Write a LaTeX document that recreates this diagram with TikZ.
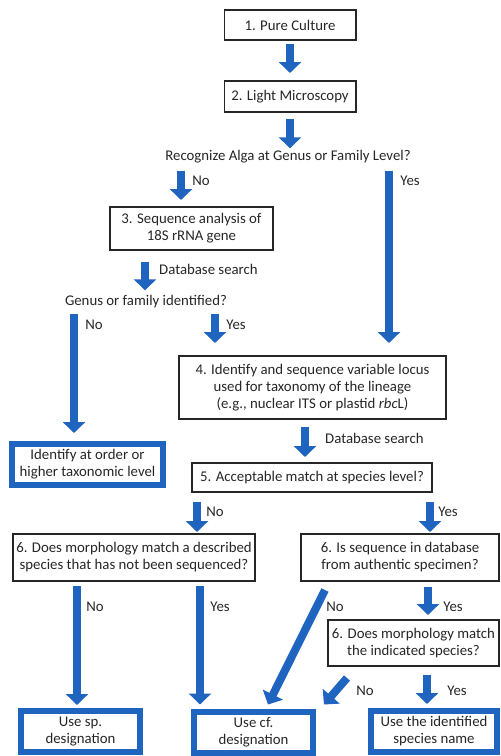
\documentclass[tikz,border=0pt]{standalone}
\usepackage{fontspec}
\setmainfont{Carlito}
\usetikzlibrary{arrows.meta,calc}
\definecolor{flowblue}{RGB}{31,100,190}
\begin{document}
\begin{tikzpicture}[x=1pt,y=-1pt,
    font=\fontsize{14.8}{17}\selectfont,text=black!85,
    box/.style={draw=black!85,line width=1.8pt,align=center,inner sep=0pt},
    endbox/.style={draw=flowblue,line width=6pt,align=center,inner sep=0pt},
    ask/.style={inner sep=0pt,text height=10pt,text depth=3pt},
    lbl/.style={inner sep=0pt},
    flow/.style={draw=flowblue,line width=8pt,-{Triangle[width=22pt,length=11pt]}}]
    \useasboundingbox (0,0) rectangle (501,756);
    \node[box,minimum width=131.2pt,minimum height=30.2pt] (b1) at (290,25) {1. Pure Culture};
    \node[box,minimum width=131.2pt,minimum height=31.2pt] (b2) at (290,96.5) {2. Light Microscopy};
    \node[ask] (q1) at (288,157) {Recognize Alga at Genus or Family Level?};
    \node[box,minimum width=163.2pt,minimum height=43.2pt] (b3) at (191.5,228.5) {3. Sequence analysis of\\18S rRNA gene};
    \node[ask] (q2) at (146,302) {Genus or family identified?};
    \node[box,minimum width=267.2pt,minimum height=63.2pt] (b4) at (312.5,387.5) {4. Identify and sequence variable locus\\used for taxonomy of the lineage\\(e.g., nuclear ITS or plastid \textit{rbc}L)};
    \node[endbox,minimum width=151pt,minimum height=41pt] (bo) at (87.5,464.5) {Identify at order or\\higher taxonomic level};
    \node[box,minimum width=240.2pt,minimum height=29.2pt] (b5) at (312,477.5) {5. Acceptable match at species level?};
    \node[box,minimum width=242.2pt,minimum height=47.2pt] (b6a) at (134,557.5) {6. Does morphology match a described\\species that has not been sequenced?};
    \node[box,minimum width=198.2pt,minimum height=47.2pt] (b6b) at (400,557.5) {6. Is sequence in database\\from authentic specimen?};
    \node[box,minimum width=171.2pt,minimum height=46.2pt] (b6c) at (413.5,643) {6. Does morphology match\\the indicated species?};
    \node[endbox,minimum width=119pt,minimum height=41pt] (bsp) at (80.5,731.5) {Use sp.\\designation};
    \node[endbox,minimum width=119pt,minimum height=41pt] (bcf) at (253.5,732) {Use cf.\\designation};
    \node[endbox,minimum width=126pt,minimum height=41pt] (bname) at (434,731.5) {Use the identified\\species name};

    \draw[flow,shorten <=3pt,shorten >=7pt] (b1) -- (b2);
    \draw[flow,shorten <=6pt,shorten >=2pt] (b2) -- (q1.north -| b2.south);
    \draw[flow,shorten <=7pt,shorten >=6pt] ([xshift=-107pt]q1.south) -- ([xshift=-10.5pt]b3.north);
    \draw[flow,shorten <=7pt,shorten >=12pt] ([xshift=101pt]q1.south) -- ([xshift=76.5pt]b4.north);
    \draw[flow,shorten <=11pt,shorten >=5pt] ([xshift=-46.5pt]b3.south) -- ([xshift=-1pt]q2.north);
    \draw[flow,shorten <=5pt,shorten >=8pt] ([xshift=-72pt]q2.south) -- ([xshift=-13.5pt]bo.north);
    \draw[flow,shorten <=5pt,shorten >=12pt] ([xshift=69pt]q2.south) -- ([xshift=-97.5pt]b4.north);
    \draw[flow,shorten <=7pt,shorten >=5pt] ([xshift=-7.5pt]b4.south) -- ([xshift=-7pt]b5.north);
    \draw[flow,shorten <=9pt,shorten >=1pt] ([xshift=-115pt]b5.south) -- ([xshift=63pt]b6a.north);
    \draw[flow,shorten <=9pt,shorten >=1pt] ([xshift=118pt]b5.south) -- ([xshift=30pt]b6b.north);
    \draw[flow,shorten <=4pt,shorten >=3pt] ([xshift=-57pt]b6a.south) -- ([xshift=-3.5pt]bsp.north);
    \draw[flow,shorten <=4pt,shorten >=4pt] ([xshift=66pt]b6a.south) -- ([xshift=-53.5pt]bcf.north);
    \draw[flow] ($(b6b.south west)+(25,8)$) -- ($(bcf.north east)+(-48,-4)$);
    \draw[flow,shorten <=5pt,shorten >=4pt] ([xshift=28pt]b6b.south) -- ([xshift=14.5pt]b6c.north);
    \draw[flow] ($(b6c.south west)+(20,11)$) -- ($(bcf.north east)+(8,-4)$);
    \draw[flow,shorten <=8pt,shorten >=4pt] ([xshift=13.5pt]b6c.south) -- ([xshift=-7pt]bname.north);

    \node[lbl] (l1) at (201,181) {No};
    \node[lbl] (l2) at (410,181) {Yes};
    \node[lbl,anchor=west] (l3) at (159,269) {Database search};
    \node[lbl] (l4) at (94,325) {No};
    \node[lbl] (l5) at (236,325) {Yes};
    \node[lbl,anchor=west] (l6) at (325,438) {Database search};
    \node[lbl] (l7) at (215,512) {No};
    \node[lbl] (l8) at (448,512) {Yes};
    \node[lbl] (l9) at (95,607) {No};
    \node[lbl] (l10) at (220,607) {Yes};
    \node[lbl] (l11) at (335,607) {No};
    \node[lbl] (l12) at (453,607) {Yes};
    \node[lbl] (l13) at (365,691) {No};
    \node[lbl] (l14) at (457,691) {Yes};
\end{tikzpicture}
\end{document}
